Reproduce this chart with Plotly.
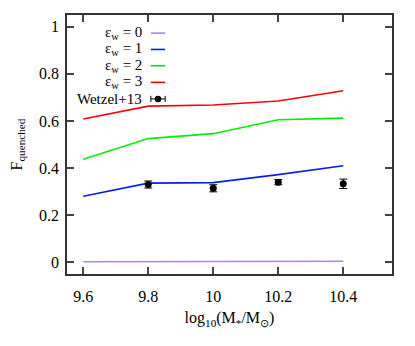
import plotly.graph_objects as go

# model curves: quenched fraction vs stellar mass
log_mass = [9.6, 9.8, 10.0, 10.2, 10.4]
eps_labels = ["0", "1", "2", "3"]
f_eps0 = [0.002, 0.002, 0.003, 0.003, 0.004]
f_eps1 = [0.28, 0.336, 0.338, 0.372, 0.41]
f_eps2 = [0.437, 0.525, 0.546, 0.605, 0.612]
f_eps3 = [0.608, 0.663, 0.668, 0.685, 0.728]

# Wetzel+13 observations
obs_mass = [9.8, 10.0, 10.2, 10.4]
obs_frac = [0.330, 0.314, 0.340, 0.333]
obs_err = [0.015, 0.015, 0.011, 0.020]

colors = ["#b07fff", "#0a1ee6", "#00ee00", "#ff0000"]
serif = "Times New Roman"

fig = go.Figure()
for ys, col in zip([f_eps0, f_eps1, f_eps2, f_eps3], colors):
    fig.add_trace(go.Scatter(x=log_mass, y=ys, mode="lines",
                             line=dict(color=col, width=1.6), showlegend=False))

fig.add_trace(go.Scatter(
    x=obs_mass, y=obs_frac, mode="markers",
    marker=dict(color="black", size=7),
    error_y=dict(type="data", array=obs_err, color="black", thickness=1, width=4),
    showlegend=False))

# hand-made legend: text right-aligned, sample to the right
rows = [0.930, 0.867, 0.804, 0.740, 0.676]
x_txt, x0, x1 = 0.236, 0.258, 0.302
shapes, annos = [], []
for i, (lab, col) in enumerate(zip(eps_labels, colors)):
    annos.append(dict(xref="paper", yref="paper", x=x_txt, y=rows[i],
                      text=f"ε<sub>w</sub> = {lab}", showarrow=False,
                      xanchor="right", yanchor="middle",
                      font=dict(family=serif, size=15, color="black")))
    shapes.append(dict(type="line", xref="paper", yref="paper",
                       x0=x0, x1=x1, y0=rows[i], y1=rows[i],
                       line=dict(color=col, width=1.6)))
yw = rows[4]
annos.append(dict(xref="paper", yref="paper", x=x_txt, y=yw, text="Wetzel+13",
                  showarrow=False, xanchor="right", yanchor="middle",
                  font=dict(family=serif, size=15, color="black")))
shapes.append(dict(type="line", xref="paper", yref="paper", x0=x0, x1=x1,
                   y0=yw, y1=yw, line=dict(color="black", width=1)))
for xc in (x0, x1):
    shapes.append(dict(type="line", xref="paper", yref="paper", x0=xc, x1=xc,
                       y0=yw - 0.012, y1=yw + 0.012, line=dict(color="black", width=1)))
cx, r = (x0 + x1) / 2, 0.010
shapes.append(dict(type="circle", xref="paper", yref="paper",
                   x0=cx - r, x1=cx + r, y0=yw - r * 325 / 259, y1=yw + r * 325 / 259,
                   fillcolor="black", line=dict(color="black", width=0)))

axis_common = dict(showline=True, linecolor="#333333", linewidth=1.5, mirror="allticks",
                   ticks="inside", ticklen=7, tickcolor="#444444", tickwidth=1.5,
                   showgrid=False, zeroline=False, automargin=False,
                   tickfont=dict(family=serif, size=16, color="black"))

# page body has an 8px margin, so the margins are shifted to compensate
fig.update_layout(
    width=415, height=346,
    margin=dict(l=59, r=31, t=7, b=80),
    plot_bgcolor="white", paper_bgcolor="white",
    shapes=shapes, annotations=annos,
    xaxis=dict(range=[9.55, 10.55], tickvals=[9.6, 9.8, 10.0, 10.2, 10.4],
               ticktext=["9.6", "9.8", "10", "10.2", "10.4"], ticklabelstandoff=7,
               title=dict(text="log<sub>10</sub>(M<sub>*</sub>/M<sub>⊙</sub>)",
                          font=dict(family=serif, size=16, color="black"), standoff=8),
               **axis_common),
    yaxis=dict(range=[-0.05, 1.05], tickvals=[0, 0.2, 0.4, 0.6, 0.8, 1],
               ticktext=["0", "0.2", "0.4", "0.6", "0.8", "1"], ticklabelstandoff=3,
               title=dict(text="F<sub>quenched</sub>",
                          font=dict(family=serif, size=16, color="black"), standoff=16),
               **axis_common),
)

fig.write_html("out.html")
